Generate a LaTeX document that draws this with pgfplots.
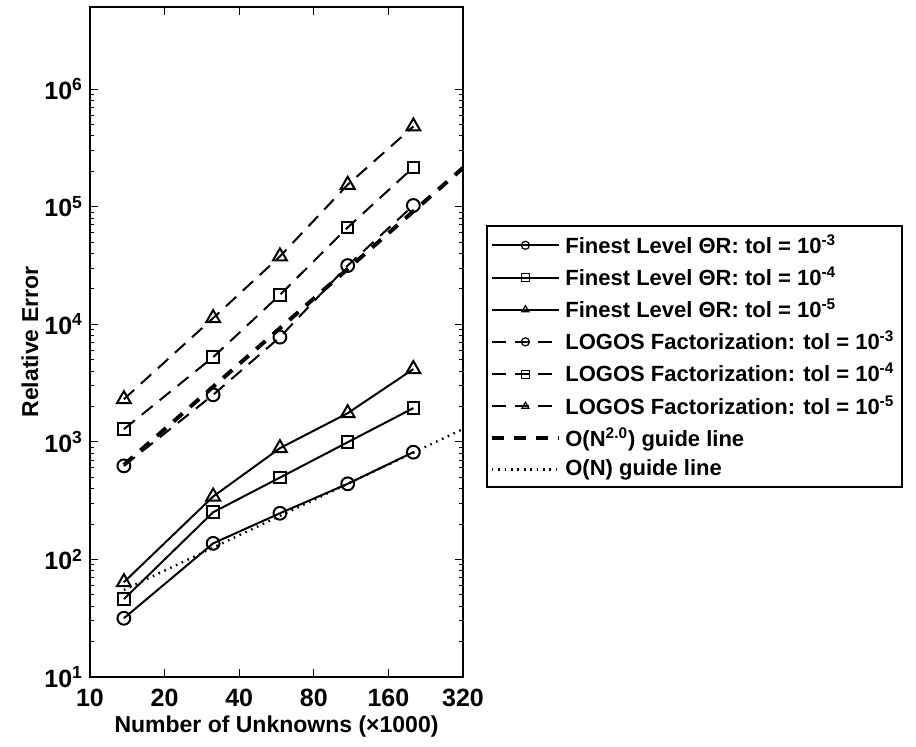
\documentclass[border=0pt]{standalone}
\usepackage{fontspec}
\setmainfont{Liberation Sans}
\usepackage{pgfplots}
\pgfplotsset{compat=1.18}
\begin{document}
\bfseries
\begin{tikzpicture}
\path[use as bounding box] (0pt,0pt) rectangle (458pt,373pt);
\begin{axis}[
  at={(45pt,34.5pt)}, anchor=south west,
  xmode=log, ymode=log,
  scale only axis,
  width=186.5pt, height=335pt,
  xmin=10, xmax=320, ymin=10, ymax=5e6,
  xtick={10,20,40,80,160,320},
  xticklabels={10,20,40,80,160,320},
  xminorticks=false,
  ytick={10,100,1000,10000,100000,1000000},
  yticklabels={10\textsuperscript{1},10\textsuperscript{2},10\textsuperscript{3},10\textsuperscript{4},10\textsuperscript{5},10\textsuperscript{6}},
  tick label style={font=\fontsize{12.5}{14}\bfseries},
  xticklabel style={yshift=-2.5pt},
  label style={font=\fontsize{11.5}{13}\bfseries},
  xlabel={Number of Unknowns (×1000)},
  ylabel={Relative Error},
  xlabel style={at={(axis description cs:0.5,-0.0746)}, anchor=center},
  ylabel style={at={(axis description cs:-0.161,0.5)}, anchor=center},
  tick align=inside,
  major tick length=4pt, minor tick length=2pt,
  axis line style={line width=0.8pt},
  every tick/.style={black, line width=0.5pt},
  legend cell align=left,
  legend image code/.code={\draw[mark repeat=2,mark phase=2,#1,mark size=2pt,mark options={solid,line width=0.6pt}] plot coordinates {(0cm,0cm)(0.59cm,0cm)(1.18cm,0cm)};},
  legend style={at={(1.0617,0.282)}, anchor=south west, font=\fontsize{11}{12}\bfseries,
    draw=black, line width=0.8pt, row sep=2.9pt, inner sep=3pt, inner xsep=1.5pt,
    nodes={inner sep=1.2pt, inner xsep=2.2pt}},
]
% Finest Level, solid
\addplot[black, line width=1pt, mark=o, mark size=3.2pt, mark options={solid, line width=1pt}]
  coordinates {(13.7,31.6) (31.4,137) (58.4,247) (109.6,440) (201.7,817)};
\addlegendentry{Finest Level ΘR: tol = 10\textsuperscript{-3}}
\addplot[black, line width=1pt, mark=square, mark size=2.9pt, mark options={solid, line width=1pt}]
  coordinates {(13.7,46) (31.4,252) (58.4,497) (109.6,993) (201.7,1937)};
\addlegendentry{Finest Level ΘR: tol = 10\textsuperscript{-4}}
\addplot[black, line width=1pt, mark=triangle, mark size=4pt, mark options={solid, line width=1pt}]
  coordinates {(13.7,64) (31.4,343) (58.4,884) (109.6,1754) (201.7,4160)};
\addlegendentry{Finest Level ΘR: tol = 10\textsuperscript{-5}}
% LOGOS, dashed
\addplot[black, line width=1pt, dash pattern=on 7pt off 4.5pt, mark=o, mark size=3.2pt, mark options={solid, line width=1pt}]
  coordinates {(13.7,625) (31.4,2512) (58.4,7780) (109.6,31600) (201.7,102500)};
\addlegendentry{LOGOS Factorization: tol = 10\textsuperscript{-3}}
\addplot[black, line width=1pt, dash pattern=on 7pt off 4.5pt, mark=square, mark size=2.9pt, mark options={solid, line width=1pt}]
  coordinates {(13.7,1282) (31.4,5260) (58.4,17800) (109.6,66700) (201.7,216000)};
\addlegendentry{LOGOS Factorization: tol = 10\textsuperscript{-4}}
\addplot[black, line width=1pt, dash pattern=on 7pt off 4.5pt, mark=triangle, mark size=4pt, mark options={solid, line width=1pt}]
  coordinates {(13.7,2307) (31.4,11300) (58.4,37800) (109.6,153800) (201.7,482000)};
\addlegendentry{LOGOS Factorization: tol = 10\textsuperscript{-5}}
% guide lines
\addplot[black, line width=2pt, dash pattern=on 6pt off 5pt, mark=none]
  coordinates {(13.7,637) (320,214000)};
\addlegendentry{O(N\textsuperscript{2.0}) guide line}
\addplot[black, line width=1.2pt, dash pattern=on 0.8pt off 2.4pt, mark=none]
  coordinates {(13.7,55) (320,1285)};
\addlegendentry{O(N) guide line}
\end{axis}
\end{tikzpicture}
\end{document}
